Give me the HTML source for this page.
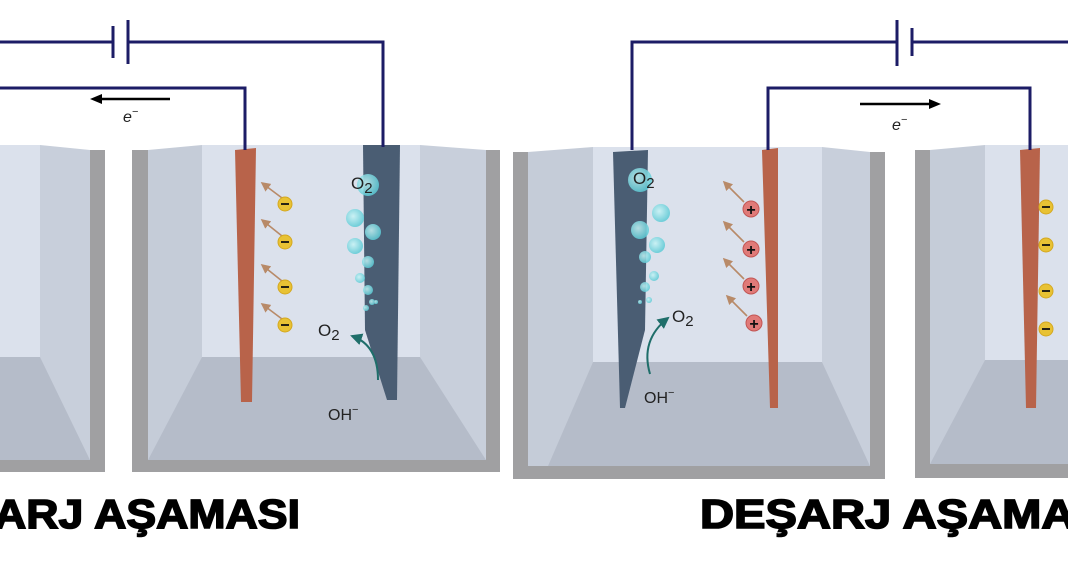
<!DOCTYPE html>
<html><head><meta charset="utf-8"><style>
html,body{margin:0;padding:0;background:#fff;overflow:hidden}
svg{display:block}
text{font-family:"Liberation Sans",sans-serif}
</style></head><body>
<svg width="1068" height="580" viewBox="0 0 1068 580" xmlns="http://www.w3.org/2000/svg">
<defs>
<marker id="ar" markerWidth="6" markerHeight="6" refX="5" refY="3" orient="auto"><path d="M0,0 L6,3 L0,6 z" fill="#b88a68"/></marker>
<marker id="tg" markerWidth="6" markerHeight="6" refX="5" refY="3" orient="auto"><path d="M0,0 L6,3 L0,6 z" fill="#1f6e6a"/></marker>
<radialGradient id="bub" cx="0.4" cy="0.4" r="0.6"><stop offset="0" stop-color="#c8f4f6"/><stop offset="1" stop-color="#5ecbd6"/></radialGradient>
</defs>

<!-- Tank A (partial left) -->
<rect x="-20" y="150" width="125" height="322" fill="#a0a0a2"/>
<rect x="-20" y="150" width="110" height="310" fill="#cdd3de"/>
<polygon points="-20,145 40,145 40,357 -20,357" fill="#dbe1ec"/>
<polygon points="40,145 90,150 90,460 40,357" fill="#c8cfdb"/>
<polygon points="-20,357 40,357 90,460 -20,460" fill="#b5bcc9"/>
<polygon points="-10,150 0,148 0,402 -6,402" fill="#b8634a"/>

<!-- Tank B -->
<rect x="132" y="150" width="368" height="322" fill="#a0a0a2"/>
<rect x="148" y="150" width="338" height="310" fill="#cdd3de"/>
<polygon points="148,150 202,145 202,357 148,460" fill="#c5ccd8"/>
<polygon points="420,145 486,150 486,460 420,357" fill="#c8cfdb"/>
<polygon points="202,357 420,357 486,460 148,460" fill="#b5bcc9"/>
<rect x="202" y="145" width="218" height="212" fill="#dbe1ec"/>
<polygon points="235,150 256,148 252,402 241,402" fill="#b8634a"/>
<polygon points="363,145 400,145 397,400 387,400 365,330" fill="#4a5d73"/>
<g stroke="#b88a68" stroke-width="1.6" marker-end="url(#ar)" fill="none">
<line x1="282" y1="198" x2="262" y2="183"/><line x1="282" y1="236" x2="262" y2="220"/>
<line x1="282" y1="281" x2="262" y2="265"/><line x1="282" y1="319" x2="262" y2="304"/>
</g>
<g fill="#e8c234" stroke="#d4a820" stroke-width="1">
<circle cx="285" cy="204" r="7"/><circle cx="285" cy="242" r="7"/><circle cx="285" cy="287" r="7"/><circle cx="285" cy="325" r="7"/>
</g>
<g stroke="#111" stroke-width="1.8"><line x1="281" y1="204" x2="289" y2="204"/><line x1="281" y1="242" x2="289" y2="242"/><line x1="281" y1="287" x2="289" y2="287"/><line x1="281" y1="325" x2="289" y2="325"/></g>
<g fill="url(#bub)" opacity="0.85">
<circle cx="368" cy="185" r="11"/><circle cx="355" cy="218" r="9"/><circle cx="373" cy="232" r="8"/><circle cx="355" cy="246" r="8"/>
<circle cx="368" cy="262" r="6"/><circle cx="360" cy="278" r="5"/><circle cx="368" cy="290" r="5"/><circle cx="372" cy="302" r="3"/><circle cx="366" cy="308" r="3"/><circle cx="376" cy="302" r="2"/>
</g>
<text x="351" y="189" font-size="17" fill="#222">O<tspan font-size="15" dy="4">2</tspan></text>
<text x="318" y="336" font-size="17" fill="#222">O<tspan font-size="15" dy="4">2</tspan></text>
<path d="M378,380 Q378,345 352,336" stroke="#1f6e6a" stroke-width="2" fill="none" marker-end="url(#tg)"/>
<text x="328" y="420" font-size="16" fill="#222">OH<tspan font-size="11" dy="-7">−</tspan></text>

<!-- Tank C -->
<rect x="513" y="152" width="372" height="327" fill="#a0a0a2"/>
<rect x="528" y="152" width="342" height="314" fill="#cdd3de"/>
<polygon points="528,152 593,147 593,362 548,466 528,466" fill="#c5ccd8"/>
<polygon points="822,147 870,152 870,466 822,362" fill="#c8cfdb"/>
<polygon points="593,362 822,362 870,466 548,466" fill="#b5bcc9"/>
<rect x="593" y="147" width="229" height="215" fill="#dbe1ec"/>
<polygon points="613,152 648,150 645,330 625,408 620,408" fill="#4a5d73"/>
<polygon points="762,150 778,148 778,408 770,408" fill="#b8634a"/>
<g stroke="#b88a68" stroke-width="1.6" marker-end="url(#ar)" fill="none">
<line x1="744" y1="202" x2="724" y2="182"/><line x1="744" y1="242" x2="724" y2="222"/>
<line x1="744" y1="279" x2="724" y2="259"/><line x1="747" y1="316" x2="727" y2="296"/>
</g>
<g fill="#e07a78" stroke="#c25654" stroke-width="1">
<circle cx="751" cy="209" r="8"/><circle cx="751" cy="249" r="8"/><circle cx="751" cy="286" r="8"/><circle cx="754" cy="323" r="8"/>
</g>
<g font-size="16" font-weight="bold" fill="#111" text-anchor="middle">
<text x="751" y="215">+</text><text x="751" y="255">+</text><text x="751" y="292">+</text><text x="754" y="329">+</text>
</g>
<g fill="url(#bub)" opacity="0.85">
<circle cx="640" cy="180" r="12"/><circle cx="661" cy="213" r="9"/><circle cx="640" cy="230" r="9"/><circle cx="657" cy="245" r="8"/>
<circle cx="645" cy="257" r="6"/><circle cx="654" cy="276" r="5"/><circle cx="645" cy="287" r="5"/><circle cx="649" cy="300" r="3"/><circle cx="640" cy="302" r="2"/>
</g>
<text x="633" y="184" font-size="17" fill="#222">O<tspan font-size="15" dy="4">2</tspan></text>
<text x="672" y="322" font-size="17" fill="#222">O<tspan font-size="15" dy="4">2</tspan></text>
<path d="M650,374 Q640,340 668,318" stroke="#1f6e6a" stroke-width="2" fill="none" marker-end="url(#tg)"/>
<text x="644" y="403" font-size="16" fill="#222">OH<tspan font-size="11" dy="-7">−</tspan></text>

<!-- Tank D partial -->
<rect x="915" y="150" width="170" height="328" fill="#a0a0a2"/>
<rect x="930" y="150" width="150" height="314" fill="#cdd3de"/>
<polygon points="930,150 985,145 985,360 930,464" fill="#c5ccd8"/>
<polygon points="985,360 1080,360 1080,464 930,464" fill="#b5bcc9"/>
<rect x="985" y="145" width="95" height="215" fill="#dbe1ec"/>
<polygon points="1020,150 1040,148 1036,408 1026,408" fill="#b8634a"/>
<g fill="#e8c234" stroke="#d4a820"><circle cx="1046" cy="207" r="7"/><circle cx="1046" cy="245" r="7"/><circle cx="1046" cy="291" r="7"/><circle cx="1046" cy="329" r="7"/></g>
<g stroke="#111" stroke-width="1.8"><line x1="1042" y1="207" x2="1050" y2="207"/><line x1="1042" y1="245" x2="1050" y2="245"/><line x1="1042" y1="291" x2="1050" y2="291"/><line x1="1042" y1="329" x2="1050" y2="329"/></g>

<!-- wires -->
<g stroke="#1c1c66" stroke-width="3" fill="none">
<polyline points="0,42 113,42"/>
<line x1="113" y1="26" x2="113" y2="58"/>
<line x1="128" y1="20" x2="128" y2="64"/>
<polyline points="128,42 383,42 383,147"/>
<polyline points="0,88 245,88 245,150"/>
<polyline points="632,150 632,42 897,42"/>
<line x1="897" y1="20" x2="897" y2="66"/>
<line x1="912" y1="28" x2="912" y2="56"/>
<polyline points="912,42 1068,42"/>
<polyline points="768,150 768,88 1030,88 1030,150"/>
</g>
<line x1="170" y1="99" x2="100" y2="99" stroke="#000" stroke-width="2.5"/>
<polygon points="90,99 102,94 102,104" fill="#000"/>
<text x="123" y="122" font-size="16" font-style="italic" fill="#222">e<tspan font-size="11" dy="-7">−</tspan></text>
<line x1="860" y1="104" x2="930" y2="104" stroke="#000" stroke-width="2.5"/>
<polygon points="941,104 929,99 929,109" fill="#000"/>
<text x="892" y="130" font-size="16" font-style="italic" fill="#222">e<tspan font-size="11" dy="-7">−</tspan></text>

<!-- titles -->
<text x="-6" y="528" font-size="41" font-weight="bold" fill="#000" stroke="#000" stroke-width="1.6" textLength="306" lengthAdjust="spacingAndGlyphs">ARJ AŞAMASI</text>
<text x="700" y="528" font-size="41" font-weight="bold" fill="#000" stroke="#000" stroke-width="1.6" textLength="420" lengthAdjust="spacingAndGlyphs">DEŞARJ AŞAMASI</text>
</svg>
</body></html>
